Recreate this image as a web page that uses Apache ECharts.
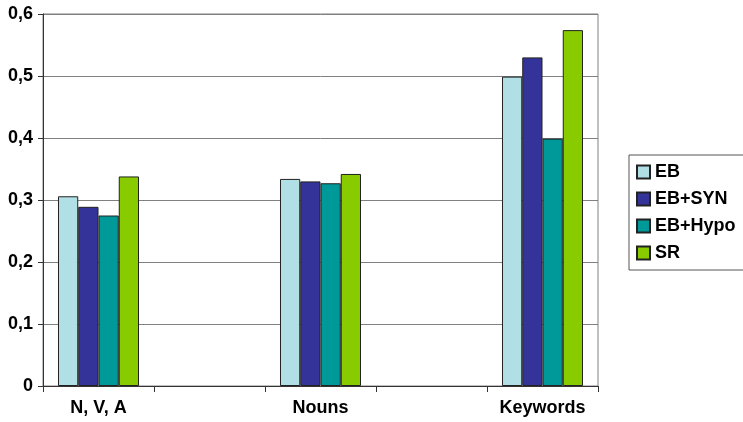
<!DOCTYPE html>
<html>
<head>
<meta charset="utf-8">
<script src="https://cdn.jsdelivr.net/npm/echarts@6/dist/echarts.min.js"></script>
<style>
  html, body { margin: 0; padding: 0; background: #fff; }
  #chart { width: 743px; height: 422px; }
</style>
</head>
<body>
<div id="chart"></div>
<script>
// categories (blank slots give the wide spacing between the groups)
var categories = ['N, V, A', '', 'Nouns', '', 'Keywords'];
var seriesNames = ['EB', 'EB+SYN', 'EB+Hypo', 'SR'];
var ebValues   = [0.306, null, 0.334, null, 0.499];
var synValues  = [0.289, null, 0.330, null, 0.530];
var hypoValues = [0.275, null, 0.327, null, 0.399];
var srValues   = [0.338, null, 0.342, null, 0.574];
var colors = ['#b0e0e6', '#333399', '#009999', '#88cc00'];

function DrawChart(){
    var myChart = echarts.init(document.getElementById('chart'));
    var allValues = [ebValues, synValues, hypoValues, srValues];
    var series = seriesNames.map(function (name, i) {
        return {
            name: name,
            type: 'bar',
            data: allValues[i],
            barGap: '0%',
            barCategoryGap: '27%',
            itemStyle: {
                color: colors[i],
                borderColor: '#222',
                borderWidth: 1
            }
        };
    });
    var option = {
        animation: false,
        textStyle: { fontFamily: 'Liberation Sans, Arial, sans-serif' },
        grid: {
            left: 43,
            right: 145,
            top: 14,
            bottom: 36,
            show: true,
            borderColor: '#808080',
            borderWidth: 1
        },
        legend: {
            orient: 'vertical',
            left: 629,
            top: 155,
            padding: [8, 40, 8, 7],
            itemWidth: 13,
            itemHeight: 13,
            itemGap: 9,
            itemTextGap: 4,
            borderColor: '#555',
            borderWidth: 1,
            icon: 'rect',
            data: seriesNames,
            textStyle: {
                fontSize: 18,
                fontWeight: 'bold',
                color: '#000',
                fontFamily: 'Liberation Sans, Arial, sans-serif'
            }
        },
        xAxis: {
            type: 'category',
            data: categories,
            axisLine: { lineStyle: { color: '#333' } },
            axisTick: { show: true, length: 6, lineStyle: { color: '#333' } },
            axisLabel: {
                interval: 0,
                margin: 13,
                fontSize: 18,
                fontWeight: 'bold',
                color: '#000'
            }
        },
        yAxis: {
            type: 'value',
            min: 0,
            max: 0.6,
            interval: 0.1,
            axisLine: { show: true, lineStyle: { color: '#333' } },
            axisTick: { show: true, length: 5, lineStyle: { color: '#333' } },
            splitLine: { lineStyle: { color: '#808080', width: 1 } },
            axisLabel: {
                margin: 10,
                fontSize: 18,
                fontWeight: 'bold',
                color: '#000',
                formatter: function (v) {
                    return String(Math.round(v * 10) / 10).replace('.', ',');
                }
            }
        },
        series: series
    };
    myChart.setOption(option);
}

DrawChart();
</script>
</body>
</html>
